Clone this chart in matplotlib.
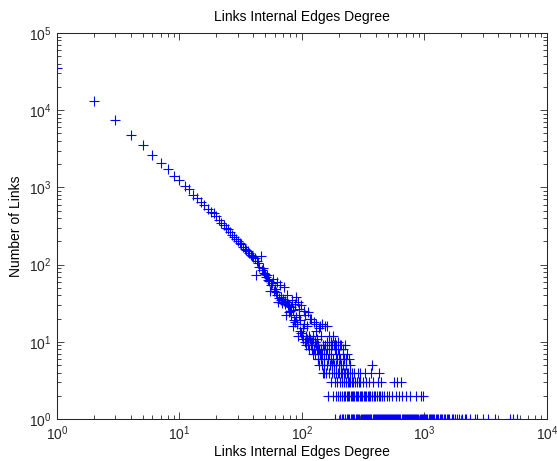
import numpy as np
import matplotlib
matplotlib.use('Agg')
import matplotlib.pyplot as plt
from matplotlib.ticker import LogLocator, NullFormatter

plt.rcParams['font.family'] = ['Liberation Sans', 'DejaVu Sans']
plt.rcParams['mathtext.fontset'] = 'custom'
plt.rcParams['mathtext.rm'] = 'Liberation Sans'
plt.rcParams['mathtext.it'] = 'Liberation Sans'

# degree k -> number of links, head of the distribution (one value per k)
head_n = [35000, 13000, 7400, 4800, 3500, 2600, 2100, 1750, 1420, 1250,
          1050, 960, 800, 720, 640, 590, 530, 480, 460, 420,
          380, 350, 330, 300, 290, 265, 240, 230, 215, 200,
          190, 185, 170, 160, 155, 150, 140, 135, 130, 125,
          120, 73, 112, 104, 93, 130, 86, 90, 79, 76,
          70, 74, 64, 61, 45, 55, 58, 65, 46, 49,
          44, 60, 40, 33, 37, 55, 35, 38, 32, 36,
          52, 31, 34, 22, 33, 40, 30, 24, 29, 25,
          22, 28, 35, 16, 26, 19, 31, 18, 38, 21,
          17, 33, 12, 22, 27, 14, 19, 13, 30, 12,
          15, 11, 25, 17, 10, 22, 12, 9, 16, 11,
          10, 24, 9, 12, 8, 11, 20, 9, 20, 10,
          8, 11, 7, 12, 18, 8, 10, 7, 14, 9,
          17, 8, 11, 7, 9, 6, 15, 8, 5, 7,
          16, 6, 12, 8, 17, 5, 7, 4, 9, 6]
head_k = list(range(1, len(head_n) + 1))

# sparse tail: degrees observed with a given small count
tail_k_16 = [155, 159]
tail_k_12 = [167, 178]
tail_k_10 = [108, 118, 127, 160, 173, 186, 195]
tail_k_9 = [154, 165, 176, 183, 190, 205, 210, 223]
tail_k_8 = [151, 161, 171, 185, 196, 216]
tail_k_7 = [157, 167, 188, 200, 215, 232]
tail_k_6 = [136, 163, 172, 180, 192, 204, 222, 228, 240]
tail_k_5 = [152, 160, 168, 176, 183, 190, 199, 208, 218, 230, 245, 372]
tail_k_4 = [150, 158, 166, 176, 184, 189, 195, 201, 207, 213, 219, 225,
            231, 238, 246, 255, 266, 285, 300, 330, 365, 425]
tail_k_3 = [172, 185, 193, 206, 214, 222, 229, 236, 241, 247, 254, 262,
            270, 279, 290, 300, 316, 333, 352, 383, 420, 445, 560, 600, 640]
tail_k_2 = [163, 178, 190, 197, 205, 213, 220, 226, 232, 238, 243, 249,
            255, 261, 268, 274, 281, 287, 295, 302, 310, 318, 327, 336,
            345, 353, 362, 372, 385, 398, 410, 422, 436, 452, 470, 492,
            515, 548, 590, 615, 650, 700, 760, 850, 930, 975]
tail_k_1 = [186, 203, 211, 218, 224, 231, 237, 244, 250, 257, 263, 268,
            275, 281, 288, 294, 301, 307, 314, 320, 327, 333, 341, 348,
            355, 362, 369, 377, 384, 392, 399, 407, 415, 423, 431, 440,
            449, 457, 466, 475, 484, 494, 503, 513, 523, 533, 544, 555,
            566, 577, 589, 600, 612, 624, 637, 650, 662, 676, 689, 703,
            717, 731, 746, 761, 776, 792, 808, 824, 841, 858, 876, 893,
            912, 931, 950, 970, 990, 1011, 1034, 1056, 1080, 1103, 1128,
            1154, 1180, 1207, 1236, 1265, 1296, 1329, 1362, 1398, 1436,
            1475, 1517, 1560, 1600, 1680, 1720, 1790, 1840, 1930, 2010,
            2130, 2200, 2340, 2600, 2700, 2980, 3300, 3750, 4990, 5250, 5690]

tails = {16: tail_k_16, 12: tail_k_12, 10: tail_k_10, 9: tail_k_9,
         8: tail_k_8, 7: tail_k_7, 6: tail_k_6, 5: tail_k_5, 4: tail_k_4,
         3: tail_k_3, 2: tail_k_2, 1: tail_k_1}

k = list(head_k)
n = list(head_n)
for cnt, ks in tails.items():
    k += ks
    n += [cnt] * len(ks)

fig = plt.figure(figsize=(5.57, 4.61), dpi=100)
ax = fig.add_axes([0.1023, 0.0911, 0.8797, 0.8373])

ax.loglog(k, n, '+', color='blue', ms=6.5, mew=0.8)

ax.set_xlim(1, 1e4)
ax.set_ylim(1, 1e5)

for a in (ax.xaxis, ax.yaxis):
    a.set_major_locator(LogLocator(base=10, numticks=10))
    a.set_minor_locator(LogLocator(base=10, subs=np.arange(2, 10), numticks=10))
    a.set_minor_formatter(NullFormatter())

ax.tick_params(which='both', direction='in', top=True, right=True,
               labelsize=10, colors='#262626', width=0.6)
ax.tick_params(which='major', length=5, pad=4)
ax.tick_params(which='minor', length=3)
for s in ax.spines.values():
    s.set_linewidth(0.75)
    s.set_color('#262626')

ax.set_title('Links Internal Edges Degree', fontsize=10, pad=9)
ax.set_xlabel('Links Internal Edges Degree', fontsize=10, labelpad=1)
ax.set_ylabel('Number of Links', fontsize=10, labelpad=4)

fig.savefig('out.png', dpi=100)
